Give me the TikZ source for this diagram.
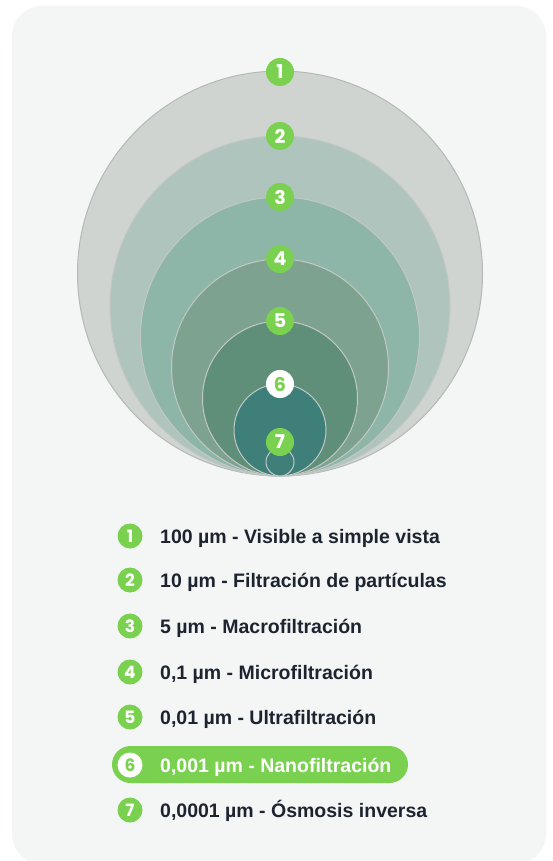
\documentclass[tikz,border=0pt]{standalone}
\usepackage{fontspec}
\setmainfont{Liberation Sans}
\newfontfamily\badgefont{Poppins}
\definecolor{panelbg}{HTML}{F4F6F5}
\definecolor{cone}{HTML}{CFD4D1}
\definecolor{ctwo}{HTML}{AFC4BD}
\definecolor{cthree}{HTML}{8DB5A8}
\definecolor{cfour}{HTML}{7EA290}
\definecolor{cfive}{HTML}{5F8F78}
\definecolor{csix}{HTML}{3F7F7A}
\definecolor{cseven}{HTML}{3F7F7A}
\definecolor{outerstroke}{HTML}{B4B8B6}
\definecolor{innerstroke}{HTML}{C3C8C6}
\definecolor{brandgreen}{HTML}{7AD14F}
\definecolor{inktext}{HTML}{1D2430}
\tikzset{
  ring/.style={line width=1pt, draw=innerstroke},
  badge/.style={circle, fill=brandgreen, minimum size=28pt, inner sep=0pt,
    text=white, font=\badgefont\bfseries\fontsize{19}{19}\selectfont},
  wbadge/.style={badge, fill=white, text=brandgreen},
  lbadge/.style={circle, fill=brandgreen, minimum size=25pt, inner sep=0pt,
    text=white, font=\badgefont\bfseries\fontsize{17}{17}\selectfont},
  wlbadge/.style={lbadge, fill=white, text=brandgreen},
  ltext/.style={anchor=base west, inner sep=0pt, text=inktext,
    font=\bfseries\fontsize{19.5}{21}\selectfont},
  wltext/.style={ltext, text=white},
  pill/.style={fill=brandgreen, rounded corners=18.5pt}
}
\begin{document}
\begin{tikzpicture}[x=1pt,y=-1pt]
\useasboundingbox (0,0) rectangle (553,861);
\fill[white] (0,0) rectangle (553,861);
\fill[panelbg, rounded corners=30pt] (12,6) rectangle (546,864);
% circles
\fill[cone] (280,273.5) circle (202.5pt);
\draw[line width=1pt, draw=outerstroke] (280,273.5) circle (202.5pt);
\filldraw[ring, fill=ctwo] (280,306) circle (170pt);
\filldraw[ring, fill=cthree] (280,336.5) circle (139.5pt);
\filldraw[ring, fill=cfour] (280,367.5) circle (108.5pt);
\filldraw[ring, fill=cfive] (280,398.5) circle (77.5pt);
\filldraw[ring, fill=csix] (280,430) circle (46pt);
\filldraw[ring, fill=cseven] (280,462) circle (14pt);
% badges on circles
\node[badge] (b1) at (280,72) {1};
\node[badge] (b2) at (280,136) {2};
\node[badge] (b3) at (280,197) {3};
\node[badge] (b4) at (280,259) {4};
\node[badge] (b5) at (280,321) {5};
\node[wbadge] (b6) at (280,384) {6};
\node[badge] (b7) at (280,442) {7};
% legend
\fill[pill] (112,746) rectangle (408,783);
\node[lbadge] (l1) at (130,536) {1};
\node[ltext] (t1) at (160,543) {100 µm - Visible a simple vista};
\node[lbadge] (l2) at (130,580) {2};
\node[ltext] (t2) at (160,587) {10 µm - Filtración de partículas};
\node[lbadge] (l3) at (130,626) {3};
\node[ltext] (t3) at (160,633) {5 µm - Macrofiltración};
\node[lbadge] (l4) at (130,672) {4};
\node[ltext] (t4) at (160,679) {0,1 µm - Microfiltración};
\node[lbadge] (l5) at (130,717) {5};
\node[ltext] (t5) at (160,724) {0,01 µm - Ultrafiltración};
\node[wlbadge] (l6) at (130,765) {6};
\node[wltext] (t6) at (160,772) {0,001 µm - Nanofiltración};
\node[lbadge] (l7) at (130,810) {7};
\node[ltext] (t7) at (160,817) {0,0001 µm - Ósmosis inversa};
\end{tikzpicture}
\end{document}
